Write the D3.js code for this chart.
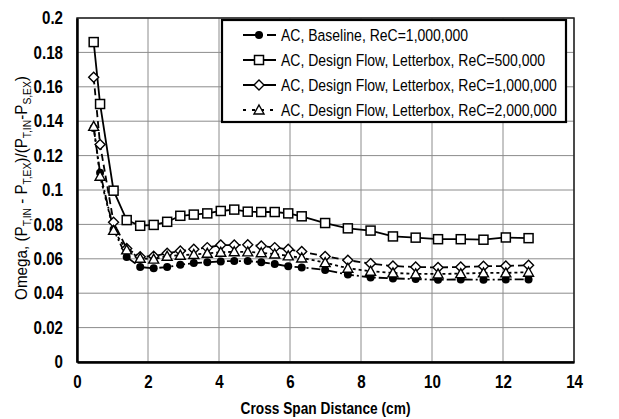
<!DOCTYPE html>
<html><head><meta charset="utf-8">
<script src="https://cdn.jsdelivr.net/npm/d3@7"></script>
<style>body{margin:0;background:#fff}svg{display:block}</style>
</head><body>
<svg id="c" width="619" height="419"></svg>
<script>
const xVals = [0.47,0.65,1.03,1.40,1.78,2.16,2.54,2.91,3.29,3.67,4.05,4.43,4.81,5.19,5.57,5.95,6.33,6.99,7.63,8.27,8.90,9.54,10.17,10.81,11.45,12.08,12.72];
const baseline1M = [0.136,0.110,0.077,0.0610,0.0552,0.0545,0.0552,0.0565,0.0575,0.0580,0.0585,0.0587,0.0587,0.0580,0.0570,0.0556,0.0550,0.0535,0.0508,0.0492,0.0486,0.0482,0.0478,0.0480,0.0478,0.0480,0.0480];
const letterbox500k = [0.186,0.150,0.0996,0.0825,0.0792,0.0797,0.0815,0.0850,0.0857,0.0864,0.0878,0.0886,0.0874,0.0872,0.0872,0.0864,0.0847,0.0808,0.0777,0.0764,0.0730,0.0723,0.0714,0.0714,0.0711,0.0724,0.0720];
const letterbox1M = [0.1655,0.1265,0.0812,0.0660,0.0612,0.0615,0.0632,0.0645,0.0655,0.0665,0.0680,0.0680,0.0682,0.0675,0.0665,0.0655,0.0642,0.0614,0.0592,0.0572,0.0558,0.0552,0.0550,0.0552,0.0557,0.0558,0.0563];
const letterbox2M = [0.137,0.108,0.0765,0.0652,0.0603,0.0598,0.0615,0.0621,0.0625,0.0632,0.0638,0.0641,0.0640,0.0635,0.0628,0.0617,0.0605,0.0578,0.0545,0.0528,0.0518,0.0512,0.0512,0.0514,0.0518,0.0518,0.0522];
const seriesNames = ["AC, Baseline, ReC=1,000,000","AC, Design Flow, Letterbox, ReC=500,000","AC, Design Flow, Letterbox, ReC=1,000,000","AC, Design Flow, Letterbox, ReC=2,000,000"];
const xTicks = [0,2,4,6,8,10,12,14];
const yTicks = [0,0.02,0.04,0.06,0.08,0.1,0.12,0.14,0.16,0.18,0.2];
const xTitle = "Cross Span Distance (cm)";

const series = [
  {name:seriesNames[0], vals:baseline1M, marker:"circle", dash:"9,3,2,3", legDash:"14,4,2,4"},
  {name:seriesNames[1], vals:letterbox500k, marker:"square", dash:null, legDash:null},
  {name:seriesNames[2], vals:letterbox1M, marker:"diamond", dash:"7,4", legDash:null},
  {name:seriesNames[3], vals:letterbox2M, marker:"triangle", dash:"3,3", legDash:"3,6"}
];

const svg = d3.select("#c");
const L=77, R=574, T=18, B=362;
const x = d3.scaleLinear().domain([0,14]).range([L,R]);
const y = d3.scaleLinear().domain([0,0.2]).range([B,T]);
const FONT = "'Liberation Sans', Arial, sans-serif";

// gridlines
const g = svg.append("g");
g.selectAll("line.v").data(xTicks.slice(1)).enter().append("line")
  .attr("x1",d=>x(d)).attr("x2",d=>x(d)).attr("y1",T).attr("y2",B)
  .attr("stroke","#8c8c8c").attr("stroke-width",1);
g.selectAll("line.h").data(yTicks.slice(1)).enter().append("line")
  .attr("x1",L).attr("x2",R).attr("y1",d=>y(d)).attr("y2",d=>y(d))
  .attr("stroke","#8c8c8c").attr("stroke-width",1);
svg.append("rect").attr("x",L).attr("y",T).attr("width",R-L).attr("height",B-T)
  .attr("fill","none").attr("stroke","#222").attr("stroke-width",1.5);

// axes
const xAxis = d3.axisBottom(x).tickValues(xTicks).tickSize(0).tickPadding(14).tickFormat(d3.format("d"));
const yAxis = d3.axisLeft(y).tickValues(yTicks).tickSize(0).tickPadding(14).tickFormat(d=>d===0?"0":String(+d.toFixed(2)));
const gx = svg.append("g").attr("transform",`translate(0,${B})`).call(xAxis);
const gy = svg.append("g").attr("transform",`translate(${L},0)`).call(yAxis);
[gx,gy].forEach(a=>{
  a.select(".domain").attr("stroke","#000").attr("stroke-width",2.5);
  a.selectAll("text").attr("font-family",FONT).attr("font-weight","bold").attr("font-size",18).attr("fill","#000");
});
gx.selectAll(".tick text").attr("dy","0.71em").attr("y",13)
  .style("transform","scaleX(0.84)").style("transform-box","fill-box").style("transform-origin","center");
gy.selectAll(".tick text").attr("x",-14)
  .style("transform","scaleX(0.84)").style("transform-box","fill-box").style("transform-origin","right");

// x title
const xt = svg.append("text").attr("font-family",FONT).attr("font-weight","bold").attr("font-size",17).attr("text-anchor","middle")
  .text(xTitle);
const xtw = xt.node().getComputedTextLength();
xt.attr("transform",`translate(${(L+R)/2},414) scale(${170/xtw},1)`);

// y title
const yt = svg.append("text").attr("font-family",FONT).attr("font-size",17).attr("text-anchor","middle");
const parts = [["Omega, (P",0],["T,IN",1],[" - P",0],["T,EX",1],[")/(P",0],["T,IN",1],["-P",0],["S,EX",1],[")",0]];
parts.forEach((p,i)=>{
  const sub = p[1]===1, prevSub = i>0 && parts[i-1][1]===1;
  yt.append("tspan").text(p[0]).attr("font-size",sub?11.5:17).attr("dy", sub?4:(prevSub?-4:0));
});
const ytw = yt.node().getComputedTextLength();
yt.attr("transform",`translate(27,${(T+B)/2 - 2}) rotate(-90) scale(${224/ytw},1)`);

// lines
const line = d3.line().x((d,i)=>x(xVals[i])).y(d=>y(d));
series.forEach(s=>{
  svg.append("path").datum(s.vals).attr("d",line).attr("fill","none")
    .attr("stroke","#000").attr("stroke-width",1.8)
    .attr("stroke-dasharray",s.dash);
});
function drawMarker(sel, type, cx, cy){
  if(type==="circle") sel.append("circle").attr("cx",cx).attr("cy",cy).attr("r",4).attr("fill","#000");
  else if(type==="square") sel.append("rect").attr("x",cx-4.5).attr("y",cy-4.5).attr("width",9).attr("height",9).attr("fill","#fff").attr("stroke","#000").attr("stroke-width",1.5);
  else if(type==="diamond") sel.append("path").attr("d",`M${cx},${cy-5}L${cx+5},${cy}L${cx},${cy+5}L${cx-5},${cy}Z`).attr("fill","#fff").attr("stroke","#000").attr("stroke-width",1.4);
  else sel.append("path").attr("d",`M${cx},${cy-5}L${cx+5},${cy+4}L${cx-5},${cy+4}Z`).attr("fill","#fff").attr("stroke","#000").attr("stroke-width",1.4);
}
series.forEach(s=>{
  const mg = svg.append("g");
  s.vals.forEach((v,i)=>drawMarker(mg, s.marker, x(xVals[i]), y(v)));
});

// legend
const lg = svg.append("g");
lg.append("rect").attr("x",222).attr("y",20).attr("width",344).attr("height",102)
  .attr("fill","#fff").attr("stroke","#000").attr("stroke-width",2.2);
const rowY = [35,60,85,110];
const texts = [];
series.forEach((s,i)=>{
  const yy = rowY[i];
  lg.append("line").attr("x1",243).attr("x2",276).attr("y1",yy).attr("y2",yy)
    .attr("stroke","#000").attr("stroke-width",1.8).attr("stroke-dasharray",s.legDash);
  drawMarker(lg, s.marker, 259, yy);
  const t = lg.append("text").attr("font-family",FONT).attr("font-size",17).attr("dy","0.36em").text(s.name);
  texts.push([t,yy]);
});
const maxW = d3.max(texts, d=>d[0].node().getComputedTextLength());
texts.forEach(([t,yy])=>t.attr("transform",`translate(281,${yy}) scale(${276/maxW},1)`));
</script>
</body></html>
